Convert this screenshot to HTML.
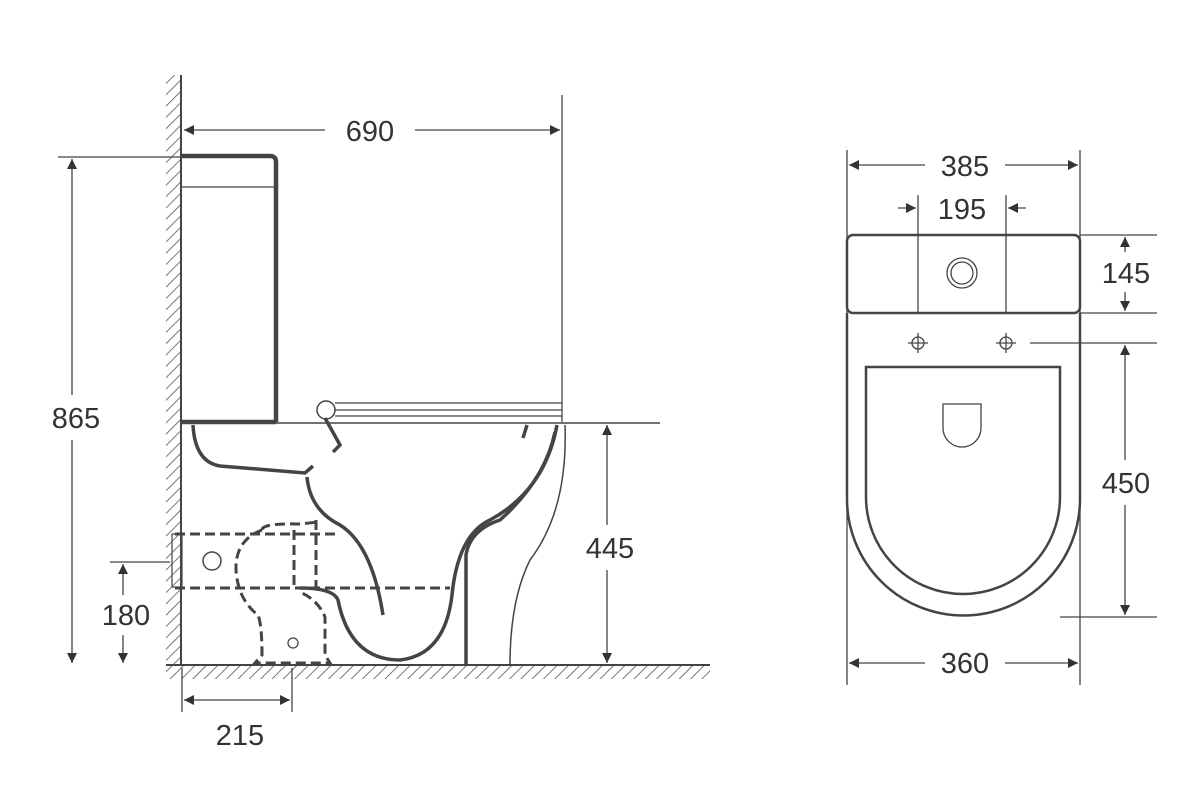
<!DOCTYPE html>
<html><head><meta charset="utf-8"><style>
html,body{margin:0;padding:0;background:#fff;}
svg{display:block;}
text{font-family:"Liberation Sans",sans-serif;font-size:29px;fill:#333;text-anchor:middle;}
</style></head><body>
<svg width="1200" height="800" viewBox="0 0 1200 800" xmlns="http://www.w3.org/2000/svg">
<defs>
<pattern id="h" width="8" height="8" patternUnits="userSpaceOnUse" patternTransform="rotate(45)">
<line x1="0" y1="0" x2="0" y2="8" stroke="#555" stroke-width="1.6"/></pattern>
<marker id="a" viewBox="0 0 10 10" refX="10" refY="5" markerWidth="14" markerHeight="10" markerUnits="userSpaceOnUse" orient="auto-start-reverse"><path d="M0,0 L10,5 L0,10 z" fill="#333"/></marker>
</defs>
<g stroke="#444" fill="none">
<!-- wall & floor -->
<rect x="166" y="75" width="14" height="590" fill="url(#h)" stroke="none"/>
<line x1="181" y1="75" x2="181" y2="666" stroke-width="2"/>
<rect x="166" y="666" width="544" height="13" fill="url(#h)" stroke="none"/>
<line x1="166" y1="665" x2="710" y2="665" stroke-width="2"/>
<!-- tank -->
<path d="M182,156 H270 Q276,156 276,162 V422" stroke-width="4.5"/>
<line x1="182" y1="187" x2="276" y2="187" stroke-width="1.2"/>
<line x1="182" y1="423" x2="660" y2="423" stroke-width="1.5"/>
<line x1="182" y1="422" x2="276" y2="422" stroke-width="4.5"/>
<!-- seat -->
<circle cx="326" cy="410" r="9" stroke-width="1.5"/>
<line x1="335" y1="403" x2="562" y2="403" stroke-width="1.3"/>
<line x1="335" y1="410" x2="562" y2="410" stroke-width="1.3"/>
<line x1="335" y1="416" x2="562" y2="416" stroke-width="1.3"/>
<line x1="562" y1="95" x2="562" y2="422" stroke-width="1.3"/>
<!-- bowl -->
<g stroke-width="3.5" stroke="#444">
<path d="M193,425 Q195,462 220,466 L305,473 L313,466"/>
<path d="M307,477 Q310,510 340,525 Q372,545 383,615"/>
<path d="M325,418 L340,445 L333,452"/>
<path d="M557,425 Q545,490 490,520 Q458,535 452,595 Q445,655 400,660 Q350,660 338,600 Q333,588 300,588"/>
<path d="M466,665 L466,555 Q470,530 500,520 Q545,480 555,432"/>
<path d="M527,425 L523,438"/>
</g>
<path d="M565,425 Q568,510 530,560 Q510,600 510,665" stroke-width="1.5"/>
<!-- dashed -->
<g stroke-width="3" stroke-dasharray="10,5">
<line x1="175" y1="534" x2="340" y2="534"/>
<line x1="175" y1="588" x2="450" y2="588"/>
<path d="M262,530 Q235,540 236,570 Q238,600 258,615 Q262,625 262,655 L255,663 L330,663 L325,655 L325,617 Q318,600 300,592"/>
<path d="M262,530 Q262,523 300,524 L318,522"/>
<line x1="294" y1="530" x2="294" y2="588"/>
<line x1="316" y1="520" x2="316" y2="588"/>
</g>
<rect x="172" y="534" width="10" height="53" stroke-width="1.2"/>
<circle cx="212" cy="561" r="9" stroke-width="1.5"/>
<circle cx="293" cy="643" r="5" stroke-width="1.3"/>
<!-- dims side -->
<g stroke-width="1.3">
<line x1="58" y1="157" x2="180" y2="157"/>
<line x1="110" y1="562" x2="170" y2="562"/>
<line x1="182" y1="668" x2="182" y2="712"/>
<line x1="292" y1="668" x2="292" y2="712"/>
<line x1="184" y1="130" x2="325" y2="130" marker-start="url(#a)"/>
<line x1="415" y1="130" x2="560" y2="130" marker-end="url(#a)"/>
<line x1="72" y1="159" x2="72" y2="395" marker-start="url(#a)"/>
<line x1="72" y1="440" x2="72" y2="663" marker-end="url(#a)"/>
<line x1="123" y1="564" x2="123" y2="595" marker-start="url(#a)"/>
<line x1="123" y1="635" x2="123" y2="663" marker-end="url(#a)"/>
<line x1="607" y1="425" x2="607" y2="525" marker-start="url(#a)"/>
<line x1="607" y1="570" x2="607" y2="663" marker-end="url(#a)"/>
<line x1="184" y1="700" x2="290" y2="700" marker-start="url(#a)" marker-end="url(#a)"/>
</g>
<!-- top view -->
<g stroke-width="1.3">
<line x1="847" y1="150" x2="847" y2="685"/>
<line x1="1080" y1="150" x2="1080" y2="685"/>
<line x1="1080" y1="235" x2="1157" y2="235"/>
<line x1="1080" y1="313" x2="1157" y2="313"/>
<line x1="1030" y1="343" x2="1157" y2="343"/>
<line x1="1060" y1="617" x2="1157" y2="617"/>
<line x1="849" y1="165" x2="925" y2="165" marker-start="url(#a)"/>
<line x1="1005" y1="165" x2="1078" y2="165" marker-end="url(#a)"/>
<line x1="898" y1="208" x2="916" y2="208" marker-end="url(#a)"/>
<line x1="1026" y1="208" x2="1008" y2="208" marker-end="url(#a)"/>
<line x1="918" y1="195" x2="918" y2="313"/>
<line x1="1006" y1="195" x2="1006" y2="313"/>
<line x1="1125" y1="237" x2="1125" y2="252" marker-start="url(#a)"/>
<line x1="1125" y1="292" x2="1125" y2="311" marker-end="url(#a)"/>
<line x1="1125" y1="345" x2="1125" y2="460" marker-start="url(#a)"/>
<line x1="1125" y1="505" x2="1125" y2="615" marker-end="url(#a)"/>
<line x1="849" y1="663" x2="925" y2="663" marker-start="url(#a)"/>
<line x1="1005" y1="663" x2="1078" y2="663" marker-end="url(#a)"/>
</g>
<rect x="847" y="235" width="233" height="78" rx="6" stroke-width="2.5"/>
<circle cx="962" cy="273" r="15" stroke-width="1.3"/>
<circle cx="962" cy="273" r="11" stroke-width="1.3"/>
<path d="M847,313 V499 A116.5,116.5 0 0 0 1080,499 V313" stroke-width="2.5"/>
<path d="M866,367 H1060 V497 A97,97 0 0 1 866,497 Z" stroke-width="2.5"/>
<path d="M943,404 H981 V428 A19,19 0 0 1 943,428 Z" stroke-width="1.3"/>
<g stroke-width="1.3">
<circle cx="918" cy="343" r="6"/><line x1="908" y1="343" x2="928" y2="343"/><line x1="918" y1="333" x2="918" y2="353"/>
<circle cx="1006" cy="343" r="6"/><line x1="996" y1="343" x2="1016" y2="343"/><line x1="1006" y1="333" x2="1006" y2="353"/>
</g>
</g>
<text x="370" y="141">690</text>
<text x="76" y="428">865</text>
<text x="126" y="625">180</text>
<text x="610" y="558">445</text>
<text x="240" y="745">215</text>
<text x="965" y="176">385</text>
<text x="962" y="219">195</text>
<text x="1126" y="283">145</text>
<text x="1126" y="493">450</text>
<text x="965" y="673">360</text>
</svg>
</body></html>
